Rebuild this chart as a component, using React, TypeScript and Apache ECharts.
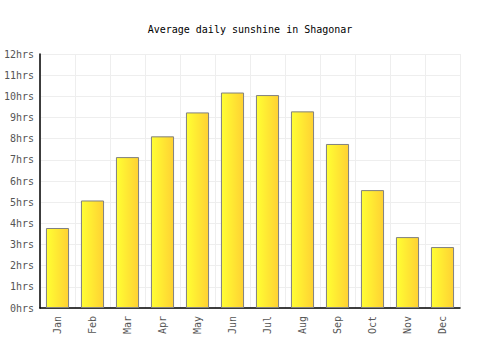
import React, { useEffect, useRef } from "react";
import * as echarts from "echarts";

const months = ["Jan", "Feb", "Mar", "Apr", "May", "Jun", "Jul", "Aug", "Sep", "Oct", "Nov", "Dec"];
const sunshineHours = [3.78, 5.08, 7.13, 8.11, 9.24, 10.18, 10.06, 9.29, 7.75, 5.57, 3.35, 2.88];
const titleText = "Average daily sunshine in Shagonar";

export default function App() {
  const ref = useRef<HTMLDivElement>(null);
  useEffect(() => {
    document.body.style.margin = "0";
    if (!ref.current) return;
    const chart = echarts.init(ref.current, null, { renderer: "svg" });
    const font = "'DejaVu Sans Mono', monospace";
    chart.setOption({
      animation: false,
      backgroundColor: "#ffffff",
      title: {
        text: titleText,
        left: "center",
        top: 19,
        textStyle: { fontFamily: font, fontSize: 10, fontWeight: "normal", color: "#000" },
      },
      grid: { left: 40, right: 40, top: 54, bottom: 42 },
      xAxis: {
        type: "category",
        data: months,
        axisLine: { lineStyle: { color: "#000", width: 1.5 } },
        axisTick: { show: false },
        splitLine: { show: true, lineStyle: { color: "#eeeeee" } },
        axisLabel: { rotate: 90, fontFamily: font, fontSize: 10, color: "#555", margin: 8, interval: 0 },
      },
      yAxis: {
        type: "value",
        min: 0,
        max: 12,
        interval: 1,
        axisLine: { show: true, lineStyle: { color: "#000", width: 1.5 } },
        axisTick: { show: false },
        splitLine: { lineStyle: { color: "#eeeeee" } },
        axisLabel: { formatter: "{value}hrs", fontFamily: font, fontSize: 10, color: "#555", margin: 6 },
      },
      series: [
        {
          type: "bar",
          data: sunshineHours,
          barWidth: "66%",
          itemStyle: {
            color: new echarts.graphic.LinearGradient(0, 0, 1, 0, [
              { offset: 0, color: "#ffff33" },
              { offset: 1, color: "#ffd133" },
            ]),
            borderColor: "#808080",
            borderWidth: 1,
          },
        },
      ],
    });
    return () => chart.dispose();
  }, []);
  return <div ref={ref} style={{ width: 500, height: 350 }} />;
}
